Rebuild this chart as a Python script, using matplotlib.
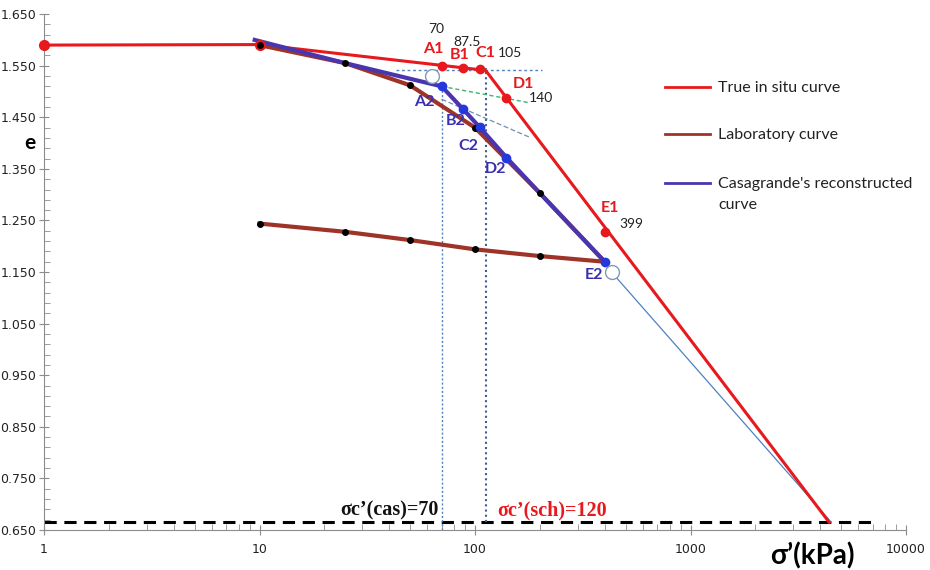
import numpy as np
import matplotlib.pyplot as plt
from matplotlib.ticker import FixedLocator, LogLocator, NullFormatter

# --- true in situ (Schmertmann) curve ---
insitu_s = [1, 10, 112, 4400]
insitu_e = [1.590, 1.591, 1.541, 0.665]
insitu_dot_s = [1, 10]
insitu_dot_e = [1.590, 1.591]
key_s = [70, 87.5, 105, 140, 399]
key_e = [1.550, 1.546, 1.543, 1.487, 1.228]
key_names = ['A1', 'B1', 'C1', 'D1', 'E1']

# --- laboratory loading / unloading ---
lab_s = [10, 25, 50, 100, 200, 400, 200, 100, 50, 25, 10]
lab_e = [1.590, 1.555, 1.512, 1.430, 1.303, 1.170, 1.181, 1.194, 1.212, 1.228, 1.244]

# --- Casagrande reconstruction ---
cas_s = [9.5, 25, 70, 87.5, 105, 140, 200, 400]
cas_e = [1.600, 1.555, 1.510, 1.467, 1.431, 1.372, 1.303, 1.170]
cas_key_s = [70, 87.5, 105, 140, 400]
cas_key_e = [1.510, 1.467, 1.431, 1.372, 1.170]
cas_names = ['A2', 'B2', 'C2', 'D2', 'E2']

# construction lines
e0_line_s, e0_line_e = [43, 205], [1.541, 1.541]
green_s, green_e = [70, 180], [1.510, 1.478]
bisect_s, bisect_e = [70, 180], [1.485, 1.411]
parallel_s, parallel_e = [430, 4500], [1.150, 0.665]
circle_s, circle_e = [63, 430], [1.530, 1.150]
e_min = 0.665
sc_cas, sc_sch = 70, 120
sc_sch_line = 112

y_ticks = [0.650, 0.750, 0.850, 0.950, 1.050, 1.150, 1.250, 1.350, 1.450, 1.550, 1.650]

legend_rows = [('True in situ curve', '#e8191c', 87),
               ('Laboratory curve', '#9e3428', 134),
               ("Casagrande's reconstructed\ncurve", '#4a35b0', 183)]

RED = '#e8191c'
LAB = '#9e3428'
BLUE = '#4a35b0'
BLUE_DOT = '#2438dc'
THIN = '#4f81bd'

W, H = 930, 570
fig = plt.figure(figsize=(9.3, 5.7), dpi=100)
ax = fig.add_axes([44 / W, 0.0702, (906 - 44) / W, 0.905])

# construction lines
ax.plot([1, 7000], [e_min, e_min], color='black', lw=2.2, dashes=(4, 2.5), zorder=2)
ax.plot([sc_cas, sc_cas], [0.650, cas_key_e[0]], color=THIN, lw=1, ls=(0, (1.5, 1.5)), zorder=2)
ax.plot([sc_sch_line, sc_sch_line], [e_min, 1.545], color='#3d5f8f', lw=1.5, ls=(0, (1, 1.5)), zorder=2)
ax.plot(e0_line_s, e0_line_e, color=THIN, lw=1, ls=(0, (2, 2)), zorder=2)
ax.plot(green_s, green_e, color='#3cb371', lw=1, ls=(0, (3, 2)), zorder=2)
ax.plot(bisect_s, bisect_e, color='#6c8fb8', lw=0.9, ls=(0, (4, 2)), zorder=2)
ax.plot(parallel_s, parallel_e, color=THIN, lw=0.9, zorder=2)

# curves
ax.plot(insitu_s, insitu_e, color=RED, lw=2.2, zorder=3)
ax.plot(lab_s, lab_e, color=LAB, lw=3, zorder=3)
ax.plot(cas_s, cas_e, color=BLUE, lw=3, zorder=4)

# markers
ax.plot(insitu_dot_s, insitu_dot_e, 'o', color=RED, ms=7, zorder=5, clip_on=False)
ax.plot(key_s, key_e, 'o', color=RED, ms=6, zorder=5)
ax.plot(lab_s, lab_e, 'o', color='black', ms=4, zorder=5)
ax.plot(cas_key_s, cas_key_e, 'o', color=BLUE_DOT, ms=6, zorder=6)
ax.plot(circle_s, circle_e, 'o', mfc='white', mec='#7f9bb8', mew=1, ms=10, zorder=6)

# point labels (offsets in pixels)
name_off = [(-8, 17), (-3, 13), (6, 16), (17, 14), (5, 24)]
val_off = [(-5, 37), (5, 26), (30, 16), (34, 0), (27, 8)]
for s, e, n, no, vo in zip(key_s, key_e, key_names, name_off, val_off):
    ax.annotate(n, (s, e), xytext=no, textcoords='offset pixels', ha='center', va='center',
                color=RED, fontsize=11.5, fontweight='bold', family='Lato', zorder=7)
    ax.annotate(f'{s:g}', (s, e), xytext=vo, textcoords='offset pixels', ha='center',
                va='center', color='#222222', fontsize=10, family='Lato', zorder=7)

cas_off = [(-17, -16), (-7, -12), (-11, -19), (-11, -11), (-11, -13)]
for s, e, n, o in zip(cas_key_s, cas_key_e, cas_names, cas_off):
    ax.annotate(n, (s, e), xytext=o, textcoords='offset pixels', ha='center', va='center',
                color='#3a2fb0', fontsize=11.5, fontweight='bold', family='Lato', zorder=7)

ax.text(68, 0.687, f'σc’(cas)={sc_cas}', ha='right', va='center', fontsize=14.5,
        fontweight='bold', family='Liberation Serif', color='#111111')
ax.text(127, 0.687, f'σc’(sch)={sc_sch}', ha='left', va='center', fontsize=14.5,
        fontweight='bold', family='Liberation Serif', color=RED)

# axes
ax.set_xscale('log')
ax.set_xlim(1, 10000)
ax.set_ylim(0.650, 1.650)
ax.xaxis.set_major_locator(FixedLocator([1, 10, 100, 1000, 10000]))
ax.xaxis.set_minor_locator(LogLocator(base=10, subs=np.arange(2, 10)))
ax.xaxis.set_minor_formatter(NullFormatter())
ax.set_xticklabels(['1', '10', '100', '1000', '10000'])
ax.yaxis.set_major_locator(FixedLocator(y_ticks))
ax.yaxis.set_minor_locator(FixedLocator(np.arange(0.670, 1.650, 0.02)))
ax.yaxis.set_major_formatter(plt.FuncFormatter(lambda v, p: f'{v:.3f}'))
ax.tick_params(which='major', direction='inout', length=7, color='#8c8c8c',
               labelsize=9, labelcolor='#222222')
ax.tick_params(which='minor', direction='in', length=4, color='#8c8c8c')
ax.tick_params(axis='x', pad=6)
ax.tick_params(axis='y', pad=2)
for side in ['top', 'right']:
    ax.spines[side].set_visible(False)
for side in ['left', 'bottom']:
    ax.spines[side].set_color('#8c8c8c')

ax.set_xlabel('σ’(kPa)', fontsize=20, fontweight='bold', family='Lato', va='center')
ax.xaxis.set_label_coords(0.891, -0.05)
ax.set_ylabel('e', fontsize=15, fontweight='bold', rotation=0, family='Lato', va='center')
ax.yaxis.set_label_coords(-0.016, 0.75)

# legend drawn by hand so the handle sits on the first text line
for label, color, ypx in legend_rows:
    yf = 1 - ypx / H
    fig.add_artist(plt.Line2D([665 / W, 710 / W], [yf, yf], color=color, lw=2))
    fig.text(718 / W, yf + 6 / H, label, ha='left', va='top', fontsize=11.5,
             family='Lato', color='#222222', linespacing=1.6)

fig.savefig('out.png', dpi=100)
